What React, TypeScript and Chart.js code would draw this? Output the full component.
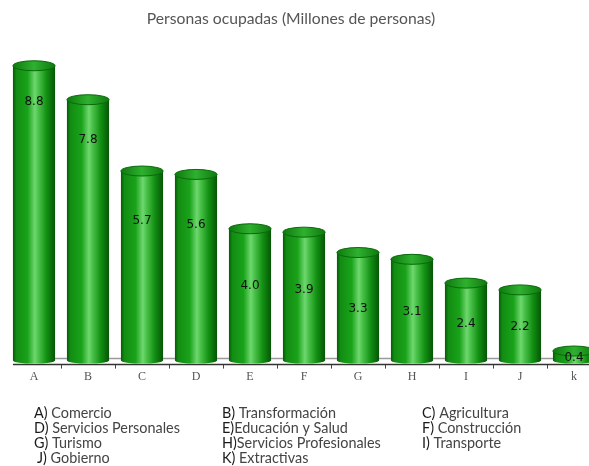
import React, { useEffect, useRef } from "react";
import { Chart, registerables } from "chart.js";

Chart.register(...registerables);

const TITLE = "Personas ocupadas (Millones de personas)";
const categories = ["A", "B", "C", "D", "E", "F", "G", "H", "I", "J", "k"];
const values = [8.8, 7.8, 5.7, 5.6, 4.0, 3.9, 3.3, 3.1, 2.4, 2.2, 0.4];
const valueLabels = ["8.8", "7.8", "5.7", "5.6", "4.0", "3.9", "3.3", "3.1", "2.4", "2.2", "0.4"];
const legendCodes = ["A)", "B)", "C)", "D)", "E)", "F)", "G)", "H)", "I)", "J)", "K)"];
const legendNames = [
  "Comercio",
  "Transformación",
  "Agricultura",
  "Servicios Personales",
  "Educación y Salud",
  "Construcción",
  "Turismo",
  "Servicios Profesionales",
  "Transporte",
  "Gobierno",
  "Extractivas",
];
const legendGap = [" ", " ", " ", " ", "", " ", " ", "", " ", " ", " "];

const cylinderPlugin = {
  id: "cylinders",
  beforeDatasetsDraw(chart: any) {
    const { ctx, chartArea } = chart;
    const base = chart.scales.y.getPixelForValue(0);
    const first = chart.getDatasetMeta(0).data[0];
    const startX = first.x - first.width / 2;
    ctx.save();
    ctx.strokeStyle = "#9a9a9a";
    ctx.lineWidth = 1.5;
    ctx.beginPath();
    ctx.moveTo(startX, base - 6);
    ctx.lineTo(chartArea.right, base - 6);
    ctx.stroke();
    ctx.strokeStyle = "#333";
    ctx.lineWidth = 1.5;
    ctx.beginPath();
    ctx.moveTo(startX, base);
    ctx.lineTo(chartArea.right, base);
    ctx.stroke();
    ctx.restore();
  },
  afterDatasetsDraw(chart: any) {
    const { ctx } = chart;
    const meta = chart.getDatasetMeta(0);
    const yScale = chart.scales.y;
    ctx.save();
    meta.data.forEach((el: any, i: number) => {
      const { x, y, base, width } = el.getProps(["x", "y", "base", "width"], true);
      const left = x - width / 2;
      const right = x + width / 2;
      const g = ctx.createLinearGradient(left, 0, right, 0);
      g.addColorStop(0, "#075a07");
      g.addColorStop(0.08, "#128c12");
      g.addColorStop(0.35, "#1aa31a");
      g.addColorStop(0.52, "#6fd86f");
      g.addColorStop(0.6, "#4cc44c");
      g.addColorStop(0.8, "#129012");
      g.addColorStop(1, "#065506");
      const rb = 3;
      const rt = 5;
      ctx.fillStyle = g;
      ctx.beginPath();
      ctx.moveTo(left, y);
      ctx.lineTo(left, base - 1 - rb);
      ctx.ellipse(x, base - 1 - rb, width / 2, rb, 0, Math.PI, 0, true);
      ctx.lineTo(right, y);
      ctx.closePath();
      ctx.fill();
      const cg = ctx.createLinearGradient(left, 0, right, 0);
      cg.addColorStop(0, "#0d7a0d");
      cg.addColorStop(0.5, "#2fb02f");
      cg.addColorStop(1, "#0d7a0d");
      ctx.fillStyle = cg;
      ctx.strokeStyle = "#0a6a0a";
      ctx.lineWidth = 1;
      ctx.beginPath();
      ctx.ellipse(x, y, width / 2, rt, 0, 0, Math.PI * 2);
      ctx.fill();
      ctx.stroke();
      const v = values[i];
      const lv = Math.max(v * 1.13 - 2.2, v / 2);
      const ly = yScale.getPixelForValue(lv);
      ctx.fillStyle = "#111";
      ctx.font = "12px 'DejaVu Sans'";
      ctx.textAlign = "center";
      ctx.textBaseline = "middle";
      ctx.fillText(valueLabels[i], x, ly);
    });
    ctx.restore();
  },
  afterDraw(chart: any) {
    const { ctx } = chart;
    ctx.save();
    ctx.textBaseline = "middle";
    ctx.textAlign = "center";
    ctx.font = "15.7px Lato";
    ctx.fillStyle = "#555";
    ctx.fillText(TITLE, 291, 19);

    const colX = [34, 222, 422];
    const rowY = [413, 428, 443, 458];
    ctx.textAlign = "left";
    legendCodes.forEach((code, i) => {
      const cx = colX[i % 3];
      const cy = rowY[Math.floor(i / 3)];
      ctx.font = "14.4px Lato";
      ctx.fillStyle = "#1a1a1a";
      const pre = code + legendGap[i];
      const xOff = code === "J)" ? 3 : 0;
      ctx.fillText(pre, cx + xOff, cy);
      const w = ctx.measureText(pre).width;
      ctx.fillStyle = "#444";
      ctx.fillText(legendNames[i], cx + xOff + w, cy);
    });
    ctx.restore();
  },
};

export default function App() {
  const ref = useRef<HTMLCanvasElement | null>(null);
  useEffect(() => {
    document.body.style.margin = "0";
    const canvas = ref.current;
    if (!canvas) return;
    const chart = new Chart(canvas, {
      type: "bar",
      data: {
        labels: categories,
        datasets: [
          {
            data: values,
            backgroundColor: "rgba(0,0,0,0)",
            borderWidth: 0,
            barPercentage: 0.78,
            categoryPercentage: 1,
          },
        ],
      },
      options: {
        responsive: false,
        animation: false,
        layout: { padding: { left: 7, right: 0, top: 25, bottom: 81 } },
        plugins: {
          legend: { display: false },
          tooltip: { enabled: false },
          title: { display: false },
        },
        scales: {
          y: { display: false, min: 0, max: 10 },
          x: {
            offset: true,
            grid: {
              display: true,
              offset: true,
              drawOnChartArea: false,
              drawTicks: true,
              tickLength: 4,
              color: (c: any) => (c.index === 0 ? "rgba(0,0,0,0)" : "#444"),
            },
            border: { display: false },
            ticks: {
              color: "#555",
              font: { family: "Liberation Serif", size: 12 },
              padding: 1,
            },
          },
        },
      },
      plugins: [cylinderPlugin],
    });
    return () => chart.destroy();
  }, []);
  return (
    <div style={{ width: 589, height: 466, overflow: "hidden" }}>
      <canvas ref={ref} width={601} height={466} style={{ display: "block" }} />
    </div>
  );
}
